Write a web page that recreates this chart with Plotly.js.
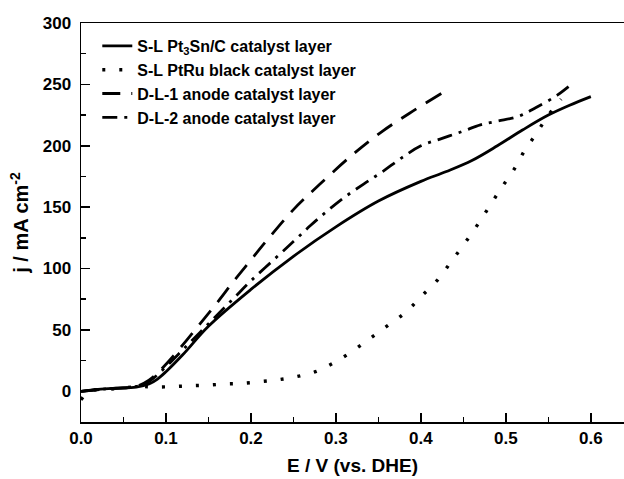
<!DOCTYPE html>
<html>
<head>
<meta charset="utf-8">
<script src="https://cdn.plot.ly/plotly-3.0.1.min.js"></script>
<style>html,body{margin:0;padding:0;background:#fff}#chart{width:624px;height:479px}</style>
</head>
<body>
<div id="chart"></div>
<script>
// S-L Pt3Sn/C catalyst layer (solid)
var ptsnX = [0, 0.02, 0.04, 0.065, 0.08, 0.09, 0.1, 0.12, 0.15, 0.2, 0.25, 0.3, 0.35, 0.4, 0.43, 0.46, 0.49, 0.52, 0.55, 0.575, 0.6];
var ptsnY = [0, 1.5, 2.5, 3.5, 6, 10, 16, 30, 53, 83, 110, 134, 155, 171, 179, 188, 200, 213, 225, 233, 240];
// S-L PtRu black catalyst layer (dotted)
var ptruX = [0, 0.01, 0.04, 0.07, 0.085, 0.107, 0.127, 0.148, 0.17, 0.191, 0.213, 0.233, 0.254, 0.276, 0.297, 0.318, 0.34, 0.36, 0.383, 0.4, 0.42, 0.436, 0.452, 0.467, 0.481, 0.495, 0.509, 0.522, 0.536, 0.549, 0.565];
var ptruY = [-7, 0, 2, 4, 3.5, 3.8, 4.5, 5, 6, 6.5, 8, 9.5, 12, 16, 23, 32, 43, 53, 65, 77, 91, 106, 121, 136, 151, 166, 180, 196, 210, 224, 238];
// D-L-1 anode catalyst layer (dashed)
var dl1X = [0, 0.03, 0.065, 0.08, 0.1, 0.12, 0.14, 0.16, 0.18, 0.2, 0.22, 0.25, 0.28, 0.32, 0.355, 0.39, 0.425, 0.435];
var dl1Y = [0, 2, 4, 9, 22, 38, 55, 72, 90, 107, 124, 148, 168, 193, 212, 228, 243, 247];
// D-L-2 anode catalyst layer (dash-dot)
var dl2X = [0, 0.03, 0.065, 0.08, 0.1, 0.12, 0.14, 0.16, 0.18, 0.2, 0.225, 0.25, 0.27, 0.29, 0.31, 0.333, 0.355, 0.377, 0.4, 0.425, 0.45, 0.47, 0.49, 0.515, 0.535, 0.56, 0.577];
var dl2Y = [0, 2, 4, 8, 20, 34, 48, 62, 76, 90, 106, 122, 135, 147, 158, 169, 179, 190, 200, 206, 212, 217, 220, 224, 231, 241, 250];

var names = ['S-L Pt<sub>3</sub>Sn/C catalyst layer', 'S-L PtRu black catalyst layer', 'D-L-1 anode catalyst layer', 'D-L-2 anode catalyst layer'];

var W = 2.8;
var traces = [
  {x: ptsnX, y: ptsnY, name: names[0], mode: 'lines', line: {color: '#000', width: W, dash: 'solid', shape: 'spline', smoothing: 1}},
  {x: ptruX, y: ptruY, name: names[1], mode: 'lines', line: {color: '#000', width: 3.4, dash: '3px,14px', shape: 'spline', smoothing: 1}},
  {x: dl1X, y: dl1Y, name: names[2], mode: 'lines', line: {color: '#000', width: W, dash: '18px,11px', shape: 'spline', smoothing: 1}},
  {x: dl2X, y: dl2Y, name: names[3], mode: 'lines', line: {color: '#000', width: W, dash: '15px,7px,3px,7px', shape: 'spline', smoothing: 1}}
];

var font = {family: 'Liberation Sans, Arial, sans-serif', color: '#000', weight: 'bold'};

var layout = {
  width: 624, height: 479,
  margin: {l: 81, r: 0, t: 23, b: 57, pad: 0},
  paper_bgcolor: '#fff', plot_bgcolor: '#fff',
  showlegend: true,
  legend: {x: 0.03, y: 0.985, xanchor: 'left', yanchor: 'top', bgcolor: 'rgba(0,0,0,0)',
    font: Object.assign({}, font, {size: 16}), tracegroupgap: 0},
  xaxis: {
    range: [0, 0.639], showgrid: false, zeroline: false,
    showline: true, linecolor: '#000', linewidth: 1.5, mirror: true,
    ticks: 'inside', ticklen: 9, tickwidth: 1.5, tickcolor: '#000',
    dtick: 0.1, tick0: 0, tickformat: '.1f',
    minor: {dtick: 0.05, ticks: 'inside', ticklen: 5, tickwidth: 1.5, tickcolor: '#000'},
    tickfont: Object.assign({}, font, {size: 17}),
    title: {text: 'E / V (vs. DHE)', font: Object.assign({}, font, {size: 19}), standoff: 12}
  },
  yaxis: {
    range: [-25, 300], showgrid: false, zeroline: false,
    showline: true, linecolor: '#000', linewidth: 1.5,
    ticks: 'inside', ticklen: 9, tickwidth: 1.5, tickcolor: '#000',
    dtick: 50, tick0: 0,
    minor: {dtick: 25, ticks: 'inside', ticklen: 5, tickwidth: 1.5, tickcolor: '#000'},
    tickfont: Object.assign({}, font, {size: 17}),
    ticklabelstandoff: 5,
    title: {text: 'j / mA cm<sup>-2</sup>', font: Object.assign({}, font, {size: 20}), standoff: 8}
  }
};

Plotly.newPlot('chart', traces, layout, {staticPlot: true, displayModeBar: false});
</script>
</body>
</html>
